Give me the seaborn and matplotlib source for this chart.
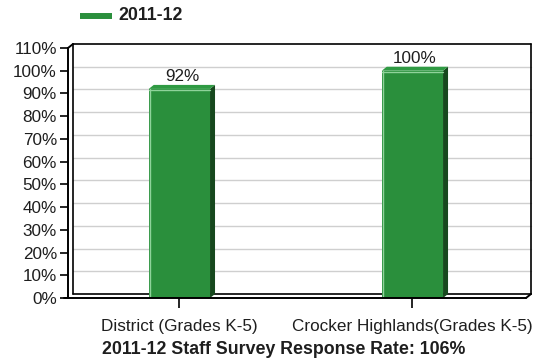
import matplotlib
matplotlib.use("Agg")
import matplotlib.pyplot as plt
from matplotlib.lines import Line2D
from matplotlib.patches import Polygon
import seaborn as sns
import pandas as pd

categories = ["District (Grades K-5)", "Crocker Highlands(Grades K-5)"]
values = [92, 100]
value_labels = ["92%", "100%"]
series_name = "2011-12"
yticks = [0, 10, 20, 30, 40, 50, 60, 70, 80, 90, 100, 110]
ytick_labels = [f"{t}%" for t in yticks]
xlabel = "2011-12 Staff Survey Response Rate: 106%"

sns.set_theme(style="white")
plt.rcParams["font.family"] = ["Liberation Sans", "DejaVu Sans"]

W, H = 547, 359
fig = plt.figure(figsize=(W / 100, H / 100), dpi=100)
ax = fig.add_axes([68 / W, 61 / H, 463 / W, 250 / H])

df = pd.DataFrame({"cat": categories, "val": values})
green = "#2a8f3c"
sns.barplot(data=df, x="cat", y="val", color=green, width=0.263, ax=ax,
            saturation=1, edgecolor="none")

xmin, xmax = -0.478, 1.509
ax.set_xlim(xmin, xmax)
ax.set_ylim(0, 110)
for s in ax.spines.values():
    s.set_visible(False)

pxx = 463 / (xmax - xmin)
pxy = 250 / 110
ddx, ddy = 5 / pxx, 4 / pxy

txt = "#1e1e1e"
fs = 12.3

# back wall grid
for t in yticks[1:-1]:
    ax.plot([xmin + ddx, xmax], [t + ddy, t + ddy], color="#cfcfcf", lw=1, zorder=0, clip_on=False)
k = dict(color="black", lw=1.2, clip_on=False, zorder=1)
ax.plot([xmin + ddx, xmin + ddx], [ddy, 110 + ddy], **k)
ax.plot([xmin + ddx, xmax], [110 + ddy, 110 + ddy], **k)
ax.plot([xmax, xmax], [ddy, 110 + ddy], **k)
ax.plot([xmin + ddx, xmax], [ddy, ddy], **k)
# front floor / left axis
k2 = dict(color="black", lw=1.4, clip_on=False, zorder=4)
ax.plot([xmin - 4 / pxx, xmax - ddx], [0, 0], **k2)
ax.plot([xmax - ddx, xmax], [0, ddy], **k2)
ax.plot([xmin, xmin], [0, 110], **k2)
ax.plot([xmin, xmin + ddx], [110, 110 + ddy], **k2)

# 3D faces for bars
for p, lab in zip(ax.patches, value_labels):
    x0, w, h = p.get_x(), p.get_width(), p.get_height()
    side = Polygon([(x0 + w, 0), (x0 + w, h), (x0 + w + ddx, h + ddy), (x0 + w + ddx, ddy)],
                   closed=True, facecolor="#17481e", edgecolor="none", zorder=3, clip_on=False)
    top = Polygon([(x0, h), (x0 + w, h), (x0 + w + ddx, h + ddy), (x0 + ddx, h + ddy)],
                  closed=True, facecolor="#2f9a43", edgecolor="none", zorder=3, clip_on=False)
    ax.add_patch(side)
    ax.add_patch(top)
    ax.plot([x0, x0 + w], [h - 0.6, h - 0.6], color="#8fd39a", lw=1, zorder=3.5)
    ax.plot([x0 + 0.004, x0 + 0.004], [0, h], color="#8fd39a", lw=1, zorder=3.5)
    p.set_zorder(3)
    ax.text(x0 + w / 2 + ddx / 2, h + ddy + 0.5, lab, ha="center", va="bottom",
            fontsize=fs, color=txt)

ax.set_yticks(yticks)
ax.set_yticklabels(ytick_labels, fontsize=fs, color=txt)
ax.tick_params(axis="y", left=True, length=6, width=1.2, color="black", pad=2)
ax.set_xticks(range(len(categories)))
ax.set_xticklabels(categories, fontsize=fs, color=txt)
ax.tick_params(axis="x", bottom=True, length=7, width=1.2, color="black", pad=8)
ax.set_xlabel(xlabel, fontsize=12.8, fontweight="bold", color=txt)
ax.xaxis.set_label_coords(0.466, -0.172)
ax.set_ylabel("")

# legend
fig.add_artist(Line2D([80 / W, 112 / W], [1 - 16 / H, 1 - 16 / H], color=green, lw=4.3,
                      solid_capstyle="butt", transform=fig.transFigure))
fig.text(118 / W, 1 - 16 / H, series_name, fontsize=12.8, fontweight="bold",
         va="center", ha="left", color=txt)

fig.savefig("out.png", dpi=100)
